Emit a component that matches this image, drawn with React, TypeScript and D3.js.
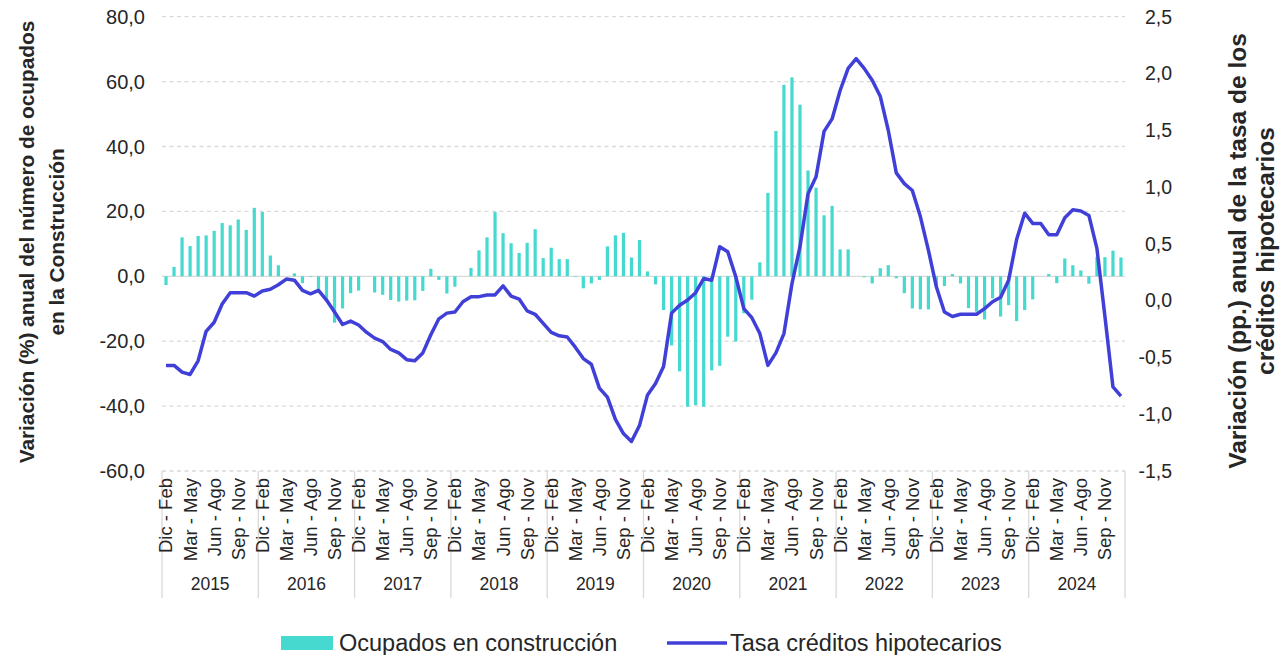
import React from 'react'
import * as d3 from 'd3'

const years = ['2015', '2016', '2017', '2018', '2019', '2020', '2021', '2022', '2023', '2024']
const periods = ['Dic - Feb', 'Ene - Mar', 'Feb - Abr', 'Mar - May', 'Abr - Jun', 'May - Jul',
  'Jun - Ago', 'Jul - Sep', 'Ago - Oct', 'Sep - Nov', 'Oct - Dic', 'Nov - Ene']

// variación % anual ocupados en construcción (eje izquierdo)
const ocupados = [
  -2.7, 2.9, 12.0, 9.3, 12.4, 12.6, 14.0, 16.4, 15.7, 17.5, 14.3, 21.1,
  19.8, 6.4, 3.4, 0.0, 0.9, -2.1, -0.2, -4.0, -7.8, -14.3, -9.9, -5.2,
  -4.4, 0.0, -5.0, -5.7, -7.3, -7.8, -7.5, -7.4, -4.5, 2.3, -1.1, -5.3,
  -3.2, 0.0, 2.6, 8.0, 12.0, 19.8, 13.3, 10.2, 7.2, 10.3, 14.5, 5.6,
  8.8, 5.3, 5.3, -0.2, -3.7, -2.2, -1.1, 9.2, 12.6, 13.4, 5.8, 11.2,
  1.5, -2.5, -10.4, -21.3, -29.3, -40.2, -39.7, -40.2, -29.0, -27.6, -18.6, -20.1,
  -11.4, -7.2, 4.3, 25.7, 44.8, 59.0, 61.3, 52.9, 32.6, 27.3, 18.8, 21.7,
  8.3, 8.3, 0.0, -0.3, -2.2, 2.5, 3.4, -0.6, -5.2, -9.9, -10.2, -10.2,
  -3.2, -3.0, 0.7, -2.2, -9.8, -10.9, -13.3, -6.8, -12.4, -8.9, -13.8, -10.4,
  -7.1, 0.0, 0.7, -2.1, 5.5, 3.4, 1.8, -2.3, 6.0, 5.9, 7.9, 5.8,
]

// variación pp. anual tasa créditos hipotecarios (eje derecho)
const tasa = [
  -0.57, -0.57, -0.63, -0.65, -0.53, -0.27, -0.19, -0.03, 0.07, 0.07, 0.07, 0.04,
  0.085, 0.10, 0.14, 0.19, 0.18, 0.09, 0.06, 0.09, 0.005, -0.10, -0.21, -0.18,
  -0.215, -0.28, -0.33, -0.36, -0.43, -0.46, -0.52, -0.53, -0.46, -0.30, -0.16, -0.11,
  -0.10, -0.01, 0.035, 0.035, 0.05, 0.05, 0.13, 0.04, 0.014, -0.09, -0.12, -0.20,
  -0.28, -0.31, -0.32, -0.41, -0.51, -0.56, -0.77, -0.85, -1.045, -1.17, -1.24, -1.10,
  -0.83, -0.73, -0.58, -0.11, -0.04, 0.005, 0.07, 0.195, 0.18, 0.475, 0.43, 0.21,
  -0.07, -0.15, -0.29, -0.57, -0.46, -0.29, 0.15, 0.475, 0.94, 1.09, 1.49, 1.60,
  1.85, 2.045, 2.13, 2.045, 1.94, 1.80, 1.50, 1.125, 1.03, 0.97, 0.74, 0.445,
  0.12, -0.10, -0.14, -0.12, -0.12, -0.12, -0.07, -0.01, 0.03, 0.18, 0.54, 0.77,
  0.68, 0.68, 0.58, 0.58, 0.73, 0.80, 0.79, 0.75, 0.46, -0.14, -0.76, -0.84,
]

const leftTicks = [80, 60, 40, 20, 0, -20, -40, -60]
const rightTicks = [2.5, 2.0, 1.5, 1.0, 0.5, 0.0, -0.5, -1.0, -1.5]

const W = 1285
const H = 655
const FONT = '"Liberation Sans", Arial, sans-serif'
const BAR = '#45d9d0'
const LINE = '#4040d8'
const GRID = '#d9d9d9'

const fmt = (v: number, d: number) => v.toFixed(d).replace('.', ',')

export default function App() {
  const cats = years.flatMap(y => periods.map(p => y + '|' + p))
  const x = d3.scaleBand<string>().domain(cats).range([162, 1125]).paddingInner(0.6).paddingOuter(0.3)
  const cx = (i: number) => (x(cats[i]) as number) + x.bandwidth() / 2
  const yL = d3.scaleLinear().domain([-60, 80]).range([471, 16.7])
  const yR = d3.scaleLinear().domain([-1.5, 2.5]).range([471, 16.7])

  const line = d3.line<number>()
    .x((_, i) => cx(i))
    .y(d => yR(d))
    .curve(d3.curveLinear)

  const yearW = (1125 - 162) / years.length

  return (
    <svg width={W} height={H} style={{ position: 'absolute', left: 0, top: 0, background: '#fff' }}
      fontFamily={FONT}>
      {/* grid */}
      {leftTicks.map(t => (
        <line key={'g' + t} x1={162} x2={1125} y1={yL(t)} y2={yL(t)}
          stroke={GRID} strokeWidth={1.3} strokeDasharray={t === 0 ? undefined : '4,3.5'} />
      ))}
      {/* left axis labels */}
      {leftTicks.map(t => (
        <text key={'l' + t} x={145} y={yL(t)} dy="0.35em" textAnchor="end" fontSize={20} fill="#262626">
          {fmt(t, 1)}
        </text>
      ))}
      {/* right axis labels */}
      {rightTicks.map(t => (
        <text key={'r' + t} x={1172} y={yR(t)} dy="0.35em" textAnchor="end" fontSize={19.5} fill="#262626">
          {fmt(t, 1)}
        </text>
      ))}
      {/* bars */}
      {ocupados.map((v, i) => (
        <rect key={'b' + i} x={x(cats[i])} width={x.bandwidth()}
          y={Math.min(yL(v), yL(0))} height={Math.abs(yL(v) - yL(0))} fill={BAR} />
      ))}
      {/* line */}
      <path d={line(tasa) as string} fill="none" stroke={LINE} strokeWidth={3.5} strokeLinejoin="round" />
      {/* category axis */}
      {d3.range(years.length + 1).map(k => (
        <line key={'s' + k} x1={162 + k * yearW} x2={162 + k * yearW} y1={471} y2={598}
          stroke={GRID} strokeWidth={1.3} />
      ))}
      {cats.map((c, i) => (i % 3 === 0 ? (
        <text key={'c' + i} transform={`translate(${cx(i)},478) rotate(-90)`} dy="0.35em"
          textAnchor="end" fontSize={18.5} fill="#262626">{c.split('|')[1]}</text>
      ) : null))}
      {years.map((y, k) => (
        <text key={'y' + y} x={162 + (k + 0.5) * yearW} y={584} dy="0.35em" textAnchor="middle"
          fontSize={17.5} fill="#262626">{y}</text>
      ))}
      {/* axis titles */}
      <g transform="translate(42,242) rotate(-90)" fontSize={20.8} fontWeight="bold" fill="#262626" textAnchor="middle">
        <text y={-15} dy="0.35em">Variación (%) anual del número de ocupados</text>
        <text y={15} dy="0.35em">en la Construcción</text>
      </g>
      <g transform="translate(1251,251) rotate(-90)" fontSize={24.5} fontWeight="bold" fill="#262626" textAnchor="middle">
        <text y={-14} dy="0.35em">Variación (pp.) anual de la tasa de los</text>
        <text y={14} dy="0.35em">créditos hipotecarios</text>
      </g>
      {/* legend */}
      <rect x={281} y={636} width={52} height={14} fill={BAR} />
      <text x={339} y={643} dy="0.35em" fontSize={23.5} fill="#262626">Ocupados en construcción</text>
      <line x1={667} x2={727} y1={643} y2={643} stroke={LINE} strokeWidth={3.5} />
      <text x={730} y={643} dy="0.35em" fontSize={23.5} fill="#262626">Tasa créditos hipotecarios</text>
    </svg>
  )
}
